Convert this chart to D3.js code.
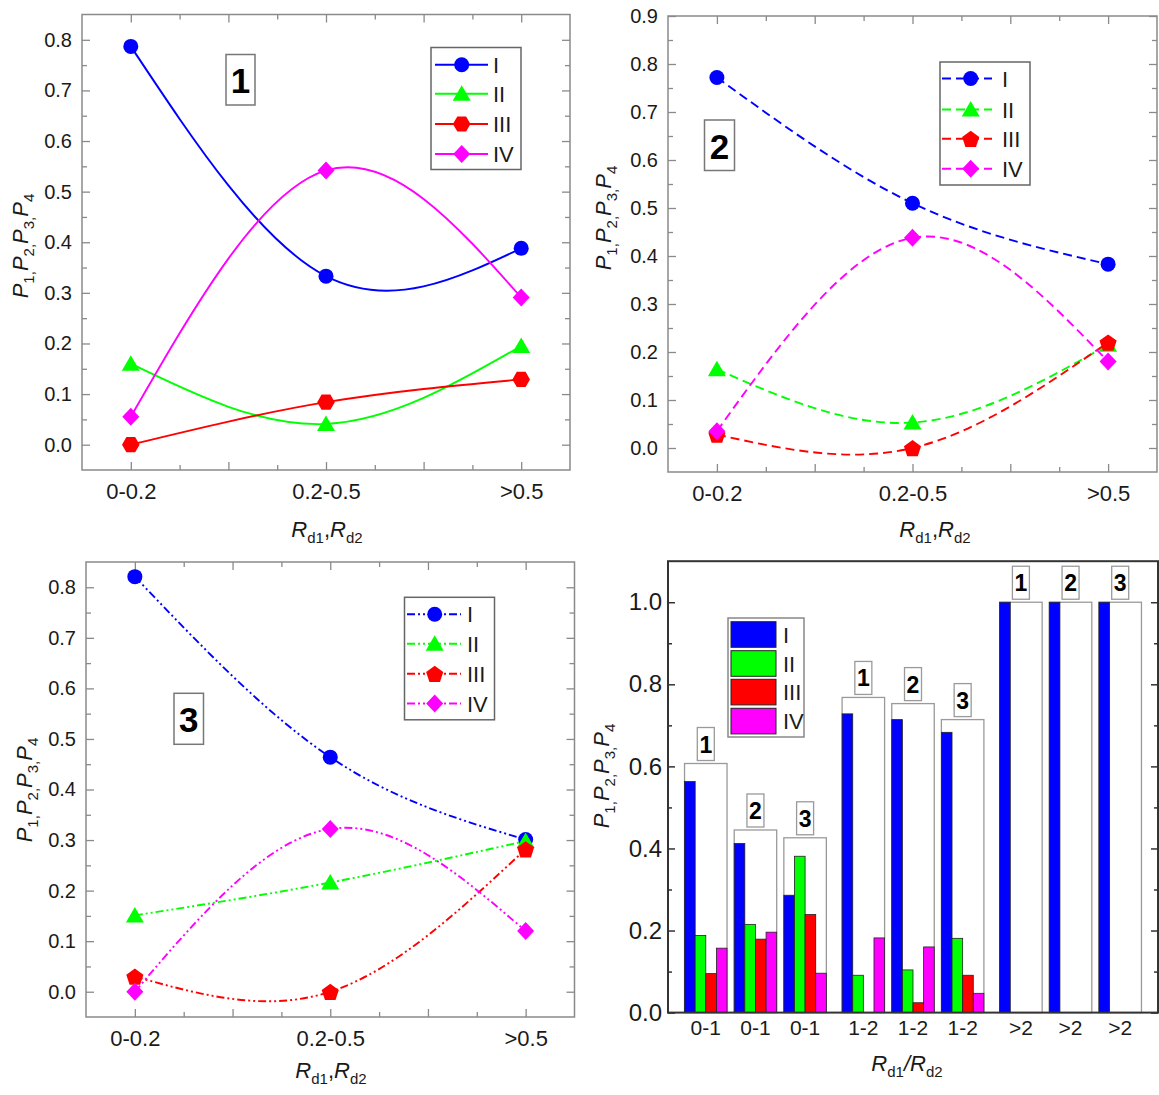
<!DOCTYPE html>
<html><head><meta charset="utf-8">
<script src="https://cdn.jsdelivr.net/npm/d3@7"></script>
<style>
body{margin:0;background:#fff;}
svg{display:block;font-family:"Liberation Sans",Arial,sans-serif;}
</style></head><body>
<svg id="chart" width="1159" height="1095"></svg>
<script>
// ---------- data ----------
const lineCategories = ["0-0.2", "0.2-0.5", ">0.5"];
const seriesNames = ["I", "II", "III", "IV"];
const seriesColors = ["#0000ff", "#00ff00", "#ff0000", "#ff00ff"];

const panel1_I   = [0.787, 0.333, 0.388];
const panel1_II  = [0.160, 0.041, 0.195];
const panel1_III = [0.000, 0.084, 0.129];
const panel1_IV  = [0.055, 0.542, 0.291];

const panel2_I   = [0.772, 0.510, 0.383];
const panel2_II  = [0.164, 0.053, 0.215];
const panel2_III = [0.028, 0.000, 0.220];
const panel2_IV  = [0.035, 0.438, 0.180];

const panel3_I   = [0.821, 0.464, 0.301];
const panel3_II  = [0.151, 0.216, 0.298];
const panel3_III = [0.030, 0.000, 0.282];
const panel3_IV  = [0.000, 0.322, 0.120];

const yTicks1 = [0, 0.1, 0.2, 0.3, 0.4, 0.5, 0.6, 0.7, 0.8];
const yTicks2 = [0, 0.1, 0.2, 0.3, 0.4, 0.5, 0.6, 0.7, 0.8, 0.9];
const yTicks3 = [0, 0.1, 0.2, 0.3, 0.4, 0.5, 0.6, 0.7, 0.8];

const barCategories = ["0-1", "1-2", ">2"];
const barGroups = ["1", "2", "3"];
const bar_I   = [0.563, 0.412, 0.286, 0.728, 0.714, 0.683, 1.0, 1.0, 1.0];
const bar_II  = [0.188, 0.215, 0.381, 0.091, 0.104, 0.181, 0, 0, 0];
const bar_III = [0.095, 0.179, 0.239, 0.000, 0.024, 0.091, 0, 0, 0];
const bar_IV  = [0.157, 0.196, 0.096, 0.182, 0.160, 0.047, 0, 0, 0];
const bar_box = [0.607, 0.445, 0.426, 0.768, 0.753, 0.714, 1.0, 1.0, 1.0];
const barYTicks = [0, 0.2, 0.4, 0.6, 0.8, 1.0];
const barYMinor = [0.1, 0.3, 0.5, 0.7, 0.9];

// ---------- helpers ----------
const svg = d3.select("#chart");
const TXT = "#1a1a1a";

function markerPath(type, s) {
  const p = d3.path();
  if (type === "circle") { p.arc(0, 0, 7.5 * s, 0, 2 * Math.PI); return p.toString(); }
  let pts;
  if (type === "triangle") pts = [[0, -8.5], [9, 7], [-9, 7]];
  else if (type === "diamond") pts = [[0, -9], [8.5, 0], [0, 9], [-8.5, 0]];
  else if (type === "pentagon") pts = d3.range(5).map(k => { const a = -Math.PI / 2 + k * 2 * Math.PI / 5; return [9 * Math.cos(a), 9 * Math.sin(a) + 1]; });
  else if (type === "hexagon") pts = d3.range(6).map(k => { const a = k * Math.PI / 3; return [8.8 * Math.cos(a), 8.8 * Math.sin(a)]; });
  pts = pts.map(q => [q[0] * s, q[1] * s]);
  p.moveTo(pts[0][0], pts[0][1]);
  pts.slice(1).forEach(q => p.lineTo(q[0], q[1]));
  p.closePath();
  return p.toString();
}

function styleAxis(sel, color, width) {
  sel.select(".domain").remove();
  sel.selectAll(".tick line").attr("stroke", color).attr("stroke-width", width);
  sel.selectAll(".tick text").attr("fill", TXT);
}

function yTitle(x, y, fs, subFs) {
  const t = svg.append("text").attr("transform", `translate(${x},${y}) rotate(-90)`)
    .attr("text-anchor", "middle").attr("fill", TXT).style("font-size", fs + "px");
  [1, 2, 3, 4].forEach((k, i) => {
    t.append("tspan").attr("dy", i === 0 ? 0 : -6).style("font-style", "italic").text("P");
    t.append("tspan").attr("dy", 6).style("font-size", subFs + "px").text(k);
    if (k < 4) t.append("tspan").style("font-size", subFs + "px").text(",");
  });
}

function xTitle(x, y, sep, fs, subFs) {
  const t = svg.append("text").attr("x", x).attr("y", y).attr("text-anchor", "middle")
    .attr("fill", TXT).style("font-size", fs + "px");
  t.append("tspan").style("font-style", "italic").text("R");
  t.append("tspan").attr("dy", 6).style("font-size", subFs + "px").text("d1");
  t.append("tspan").attr("dy", -6).style("font-style", sep === "/" ? "italic" : "normal").text(sep);
  t.append("tspan").style("font-style", "italic").text("R");
  t.append("tspan").attr("dy", 6).style("font-size", subFs + "px").text("d2");
}

function numBox(x, y, w, h, label, fs, baseOff) {
  svg.append("rect").attr("x", x).attr("y", y).attr("width", w).attr("height", h)
    .attr("fill", "#fff").attr("stroke", "#777").attr("stroke-width", 1.5);
  svg.append("text").attr("x", x + w / 2).attr("y", y + h - baseOff).attr("text-anchor", "middle")
    .attr("fill", "#000").style("font-size", fs + "px").style("font-weight", "bold").text(label);
}

function linePanel(cfg) {
  const x = d3.scaleLinear().domain([-0.25, 2.25]).range([cfg.left, cfg.right]);
  const y = d3.scaleLinear().domain([-0.05, cfg.yMax]).range([cfg.bottom, cfg.top]);
  const frameC = "#8a8a8a";
  const yMinor = cfg.yTicks.map(v => +(v + 0.05).toFixed(2)).filter(v => v < cfg.yMax - 1e-6);
  const xMajor = [0, 0.5, 1, 1.5, 2], xMinor = [0.25, 0.75, 1.25, 1.75];

  svg.append("rect").attr("x", cfg.left).attr("y", cfg.top)
    .attr("width", cfg.right - cfg.left).attr("height", cfg.bottom - cfg.top)
    .attr("fill", "none").attr("stroke", frameC).attr("stroke-width", 1.5);

  const gl = svg.append("g").attr("transform", `translate(${cfg.left},0)`)
    .call(d3.axisLeft(y).tickValues(cfg.yTicks).tickSize(-8).tickPadding(10).tickFormat(d3.format(".1f")));
  gl.selectAll("text").style("font-size", "20px").attr("font-family", null);
  styleAxis(gl, frameC, 1.3);
  styleAxis(svg.append("g").attr("transform", `translate(${cfg.left},0)`)
    .call(d3.axisLeft(y).tickValues(yMinor).tickSize(-5).tickFormat("")), frameC, 1.3);
  styleAxis(svg.append("g").attr("transform", `translate(${cfg.right},0)`)
    .call(d3.axisRight(y).tickValues(cfg.yTicks).tickSize(-8).tickFormat("")), frameC, 1.3);
  styleAxis(svg.append("g").attr("transform", `translate(${cfg.right},0)`)
    .call(d3.axisRight(y).tickValues(yMinor).tickSize(-5).tickFormat("")), frameC, 1.3);

  const gb = svg.append("g").attr("transform", `translate(0,${cfg.bottom})`)
    .call(d3.axisBottom(x).tickValues(xMajor).tickSize(-8).tickPadding(13)
      .tickFormat(d => Number.isInteger(d) ? lineCategories[d] : ""));
  gb.selectAll("text").style("font-size", "22px").attr("font-family", null);
  styleAxis(gb, frameC, 1.3);
  styleAxis(svg.append("g").attr("transform", `translate(0,${cfg.bottom})`)
    .call(d3.axisBottom(x).tickValues(xMinor).tickSize(-5).tickFormat("")), frameC, 1.3);
  styleAxis(svg.append("g").attr("transform", `translate(0,${cfg.top})`)
    .call(d3.axisTop(x).tickValues(xMajor).tickSize(-8).tickFormat("")), frameC, 1.3);
  styleAxis(svg.append("g").attr("transform", `translate(0,${cfg.top})`)
    .call(d3.axisTop(x).tickValues(xMinor).tickSize(-5).tickFormat("")), frameC, 1.3);

  const markers = ["circle", "triangle", cfg.markerIII, "diamond"];
  const line = d3.line().x((d, i) => x(i)).y(d => y(d)).curve(d3.curveNatural);
  cfg.series.forEach((vals, si) => {
    svg.append("path").attr("d", line(vals)).attr("fill", "none")
      .attr("stroke", seriesColors[si]).attr("stroke-width", 1.9)
      .attr("stroke-dasharray", cfg.dash);
    vals.forEach((v, i) => {
      svg.append("path").attr("d", markerPath(markers[si], 1))
        .attr("transform", `translate(${x(i)},${y(v)})`).attr("fill", seriesColors[si]);
    });
  });

  // legend
  const L = cfg.legend;
  svg.append("rect").attr("x", L.x).attr("y", L.y).attr("width", L.w).attr("height", L.h)
    .attr("fill", "#fff").attr("stroke", "#666").attr("stroke-width", 1.5);
  seriesNames.forEach((nm, si) => {
    const ry = L.rows[si];
    svg.append("line").attr("x1", L.l1).attr("x2", L.l2).attr("y1", ry).attr("y2", ry)
      .attr("stroke", seriesColors[si]).attr("stroke-width", 1.9).attr("stroke-dasharray", cfg.dash);
    svg.append("path").attr("d", markerPath(markers[si], 1))
      .attr("transform", `translate(${L.m},${ry})`).attr("fill", seriesColors[si]);
    svg.append("text").attr("x", L.t).attr("y", ry + 8).attr("fill", TXT)
      .style("font-size", "22px").text(nm);
  });

  numBox(cfg.box.x, cfg.box.y, cfg.box.w, cfg.box.h, cfg.box.label, 35, 12);
}

// ---------- panel 1 ----------
linePanel({
  left: 82, right: 570, top: 14.5, bottom: 470, yMax: 0.85, yTicks: yTicks1,
  series: [panel1_I, panel1_II, panel1_III, panel1_IV], dash: null, markerIII: "hexagon",
  legend: { x: 431, y: 47.5, w: 90, h: 122, rows: [64.7, 93.7, 124, 154], l1: 435, l2: 488, m: 461.7, t: 493 },
  box: { x: 226, y: 54.5, w: 29, h: 50.5, label: "1" }
});
yTitle(28, 246, 22, 15);
xTitle(327, 537, ",", 22, 15);

// ---------- panel 2 ----------
linePanel({
  left: 668, right: 1157, top: 16, bottom: 472, yMax: 0.9, yTicks: yTicks2,
  series: [panel2_I, panel2_II, panel2_III, panel2_IV], dash: "9,5", markerIII: "pentagon",
  legend: { x: 940, y: 62, w: 90, h: 123, rows: [78.5, 109.5, 138.8, 168.7], l1: 942, l2: 992, m: 970.7, t: 1002 },
  box: { x: 704.5, y: 120, w: 30, h: 50.5, label: "2" }
});
yTitle(611, 218, 22, 15);
xTitle(935, 537, ",", 22, 15);

// ---------- panel 3 ----------
linePanel({
  left: 86, right: 574.5, top: 562, bottom: 1017, yMax: 0.85, yTicks: yTicks3,
  series: [panel3_I, panel3_II, panel3_III, panel3_IV], dash: "8,3,2,3,2,3", markerIII: "pentagon",
  legend: { x: 404.5, y: 597.3, w: 90, h: 122.5, rows: [614.3, 643.7, 673.8, 703.5], l1: 407, l2: 461, m: 434.7, t: 467 },
  box: { x: 174, y: 693.3, w: 29.5, h: 51, label: "3" }
});
yTitle(31.5, 790, 22, 15);
xTitle(331, 1078, ",", 22, 15);

// ---------- panel 4 (bars) ----------
(function () {
  const left = 668, right = 1158, top = 561.2, bottom = 1012.6;
  const x0 = d3.scaleBand().domain(barCategories).range([left, right]).paddingInner(0.1).paddingOuter(0.105);
  const x1 = d3.scaleBand().domain(barGroups).range([0, x0.bandwidth()]).paddingInner(0.144);
  const x2 = d3.scaleBand().domain(seriesNames).range([0, x1.bandwidth()]);
  const y = d3.scaleLinear().domain([0, 1.1]).range([bottom, top]);
  const axC = "#333";

  const rows = bar_I.map((_, i) => ({
    cat: barCategories[Math.floor(i / 3)], grp: barGroups[i % 3],
    vals: [bar_I[i], bar_II[i], bar_III[i], bar_IV[i]], box: bar_box[i]
  }));

  rows.forEach(r => {
    const gx = x0(r.cat) + x1(r.grp);
    svg.append("rect").attr("x", gx).attr("y", y(r.box)).attr("width", x1.bandwidth())
      .attr("height", y(0) - y(r.box)).attr("fill", "#fff").attr("stroke", "#9a9a9a").attr("stroke-width", 1.3);
    r.vals.forEach((v, si) => {
      if (v <= 0) return;
      svg.append("rect").attr("x", gx + x2(seriesNames[si])).attr("y", y(v))
        .attr("width", x2.bandwidth()).attr("height", y(0) - y(v))
        .attr("fill", seriesColors[si]).attr("stroke", "#222").attr("stroke-width", 0.8);
    });
    const lw = 17, lh = 33;
    const cx = gx + x1.bandwidth() / 2;
    const by = y(r.box) - 3;
    svg.append("rect").attr("x", cx - lw / 2).attr("y", by - lh).attr("width", lw).attr("height", lh)
      .attr("fill", "#fff").attr("stroke", "#9a9a9a").attr("stroke-width", 1.3);
    svg.append("text").attr("x", cx).attr("y", by - 8).attr("text-anchor", "middle")
      .attr("fill", "#000").style("font-size", "23px").style("font-weight", "bold").text(r.grp);
    svg.append("text").attr("x", cx).attr("y", 1035).attr("text-anchor", "middle")
      .attr("fill", TXT).style("font-size", "21px").text(r.cat);
  });

  svg.append("rect").attr("x", left).attr("y", top).attr("width", right - left).attr("height", bottom - top)
    .attr("fill", "none").attr("stroke", axC).attr("stroke-width", 2);

  const gl = svg.append("g").attr("transform", `translate(${left},0)`)
    .call(d3.axisLeft(y).tickValues(barYTicks).tickSize(-7).tickPadding(6).tickFormat(d3.format(".1f")));
  gl.selectAll("text").style("font-size", "24px").attr("font-family", null);
  styleAxis(gl, axC, 1.5);
  styleAxis(svg.append("g").attr("transform", `translate(${left},0)`)
    .call(d3.axisLeft(y).tickValues(barYMinor).tickSize(-4).tickFormat("")), axC, 1.5);
  styleAxis(svg.append("g").attr("transform", `translate(${right},0)`)
    .call(d3.axisRight(y).tickValues(barYTicks).tickSize(-7).tickFormat("")), axC, 1.5);
  styleAxis(svg.append("g").attr("transform", `translate(${right},0)`)
    .call(d3.axisRight(y).tickValues(barYMinor).tickSize(-4).tickFormat("")), axC, 1.5);

  const Lx = 728, Ly = 618;
  svg.append("rect").attr("x", Lx).attr("y", Ly).attr("width", 76).attr("height", 119)
    .attr("fill", "#fff").attr("stroke", "#888").attr("stroke-width", 1.5);
  const rowsY = [621.7, 650.7, 679.3, 708.3];
  seriesNames.forEach((nm, si) => {
    svg.append("rect").attr("x", 731).attr("y", rowsY[si]).attr("width", 45).attr("height", 25.6)
      .attr("fill", seriesColors[si]).attr("stroke", "#222").attr("stroke-width", 1);
    svg.append("text").attr("x", 783).attr("y", rowsY[si] + 21).attr("fill", TXT)
      .style("font-size", "22px").text(nm);
  });

  yTitle(609, 776, 22, 15);
  xTitle(907, 1071, "/", 22, 15);
})();
</script>
</body></html>
